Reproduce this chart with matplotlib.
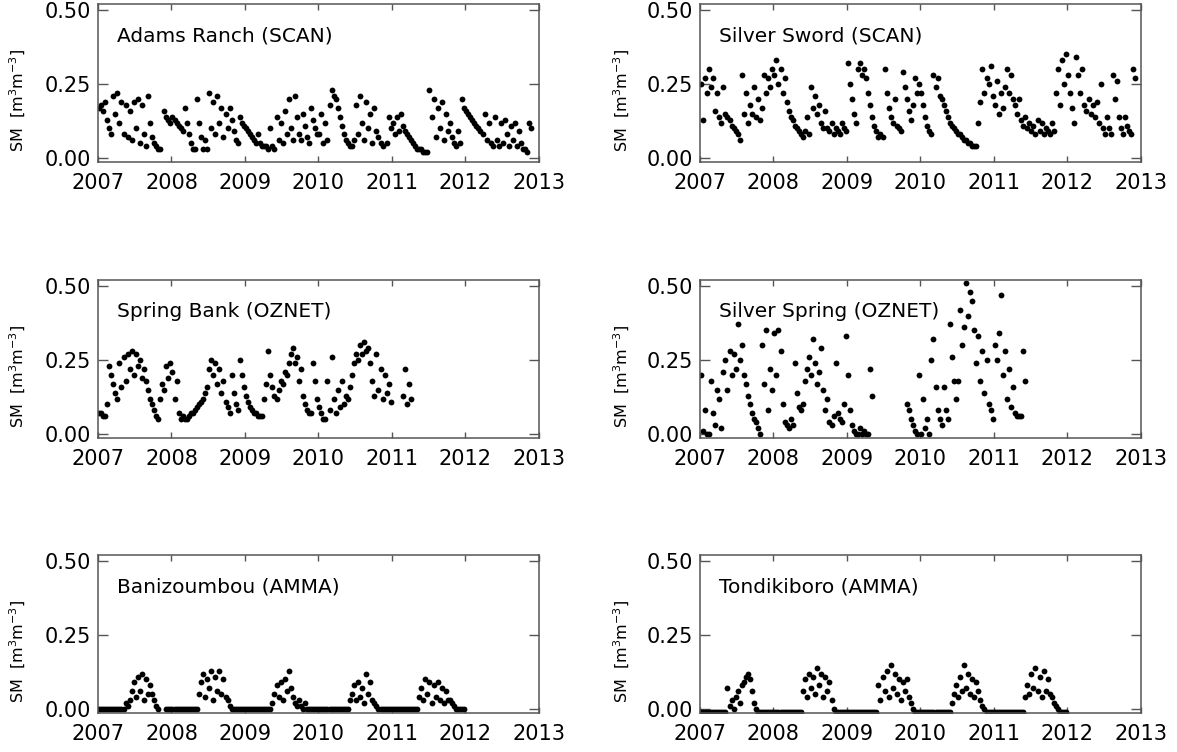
import numpy as np
import matplotlib.pyplot as plt

na = None  # gap in the record

# soil moisture, in units of 0.01 m3/m3,
# one value per dekad (36 per year) starting January 2007
adams_ranch = [
    17, 18, 16, 19, 13, 10, 8, 21, 15, 22, 12, 19, 8, 18, 7, 16, 6, 19,
    10, 20, 5, 18, 8, 4, 21, 12, 7, 5, 4, 3, 3, na, 16, 14, 13, 12,
    14, 13, 12, 11, 10, 9, 17, 12, 8, 5, 3, 3, 20, 12, 7, 3, 6, 3,
    22, 10, 19, 8, 21, 12, 17, 7, 15, 10, 17, 13, 9, 6, 5, 14, 12, 11,
    10, 9, 8, 7, 6, 5, 8, 5, 4, 4, 4, 3, 10, 4, 3, 14, 6, 12,
    5, 16, 8, 20, 10, 6, 21, 14, 8, 6, 15, 11, 7, 5, 17, 13, 10, 8,
    8, 15, 5, 12, 6, 18, 23, 21, 20, 17, 14, 11, 8, 6, 5, 4, 4, 6,
    18, 8, 21, 12, 6, 19, 10, 15, 5, 17, 9, 7, 5, 4, na, 5, 14, 10,
    12, 8, 14, 9, 15, 11, 9, 8, 7, 6, 5, 4, 3, 3, 3, 2, 2, 2,
    23, 14, 20, 7, 17, 10, 19, 6, 15, 9, 12, 7, 5, 4, 9, 5, 20, 17,
    16, 15, 14, 13, 12, 11, 10, 9, 8, 15, 6, 12, 5, 4, 14, 6, 4, 12,
    5, 13, 8, 4, 11, 6, 12, 4, 9, 5, 3, 3, 2, 12, 10,
]

silver_sword = [
    25, 13, 27, 22, 30, 24, 27, 16, 22, 14, 12, 24, 15, 14, 13, 11, 10, 9,
    8, 6, 28, 15, 22, 12, 18, 15, 24, 14, 20, 13, 17, 28, 22, 27, 24, 30,
    28, 33, 25, 30, 22, 27, 19, 16, 14, 13, 11, 10, 9, 8, 7, 9, 14, 8,
    24, 17, 21, 15, 18, 12, 10, 16, 10, 9, 12, 8, 10, 9, 8, 12, 10, 9,
    32, 25, 20, 15, 12, 30, 32, 28, 30, 27, 22, 18, 14, 11, 9, 7, 8, 7,
    30, 22, 17, 14, 12, 20, 11, 10, 9, 29, 24, 20, 16, 13, 18, 27, 22, 25,
    22, 18, 14, 11, 9, 8, 28, 24, 27, 21, 20, 18, 16, 14, 12, 11, 10, 9,
    8, 8, 7, 6, 6, 5, 5, 4, 4, 4, 12, 19, 30, 22, 27, 25, 31, 21,
    18, 26, 15, 22, 17, 24, 30, 22, 28, 20, 18, 15, 20, 13, 11, 14, 10, 12,
    9, 11, 8, 13, 9, 12, 8, 10, 9, 8, 12, 9, 22, 30, 18, 33, 25, 35,
    28, 22, 17, 12, 34, 28, 22, 30, 18, 16, 20, 15, 18, 14, 19, 12, 25, 10,
    8, 14, 10, 8, 28, 20, 26, 14, 10, 8, 14, 11, 9, 8, 30, 27,
]

spring_bank = [
    7, 7, 6, 6, 10, 23, 20, 17, 14, 12, 24, 16, 26, 18, 27, 22, 28, 20,
    27, 23, 25, 19, 22, 18, 15, 12, 10, 8, 6, 5, 12, 17, 15, 23, 19, 24,
    21, 12, 18, 7, 5, 6, 5, 5, 6, 7, 7, 8, 9, 10, 11, 12, 14, 16,
    22, 25, 20, 24, 17, 22, 14, 18, 11, 9, 7, 20, 14, 10, 8, 25, 20, 16,
    13, 11, 9, 8, 7, 7, 6, 6, 6, 12, 17, 28, 20, 16, 13, 12, 15, 18,
    17, 21, 20, 24, 27, 29, 24, 26, 18, 22, 13, 10, 8, 7, 7, 24, 18, 12,
    9, 7, 5, 5, 18, 8, 26, 12, 7, 15, 9, 18, 10, 13, 12, 16, 20, 24,
    27, 25, 30, 27, 31, 28, 29, 24, 18, 13, 27, 15, 22, 12, 20, 14, 17, 11,
    na, na, na, na, na, 13, 22, 10, 17, 12,
]

silver_spring = [
    20, 1, 8, 0, 0, 18, 7, 3, 15, 12, 2, 21, 25, 15, 28, 20, 27, 22,
    37, 25, 30, 20, 17, 13, 10, 7, 5, 4, 2, 0, 30, 17, 35, 8, 22, 15,
    34, 20, 35, 28, 10, 4, 3, 2, 5, 3, 24, 14, 9, 8, 10, 18, 22, 26,
    20, 32, 24, 17, 21, 29, 15, 8, 12, 4, 3, 6, 24, 7, 5, 4, 10, 33,
    20, 8, 3, 1, 0, 0, 2, 0, 1, 0, 0, 22, 13, na, na, na, na, na,
    na, na, na, na, na, na, na, na, na, na, na, 10, 8, 5, 3, 1, 0, 20,
    0, 12, 2, 5, 0, 25, 32, 16, 8, 5, 3, 16, 8, 5, 37, 26, 18, 12,
    18, 42, 30, 36, 51, 40, 48, 45, 35, 24, 33, 18, 28, 14, 25, 10, 8, 5,
    30, 25, 34, 47, 20, 28, 12, 22, 9, 16, 7, 6, 6, 6, 28, 18,
]

banizoumbou = [
    0, 0, 0, 0, 0, 0, 0, 0, 0, 0, 0, 0, 0, 2, 1, 3, 6, 9,
    4, 11, 6, 12, 3, 10, 5, 8, 5, 3, 1, 0, na, na, na, 0, 0, 0,
    0, 0, 0, 0, 0, 0, 0, 0, 0, 0, 0, 0, 0, 5, 9, 12, 4, 10,
    7, 13, 3, 11, 6, 13, 5, 10, 4, 3, 1, 0, 0, 0, 0, 0, 0, 0,
    0, 0, 0, 0, 0, 0, 0, 0, 0, 0, 0, 0, 0, 2, 5, 8, 4, 9,
    3, 10, 6, 13, 7, 4, 2, 1, 3, 1, 0, 2, 0, 0, 0, 0, 0, 0,
    0, 0, 0, 0, 0, 0, 0, 0, 0, 0, 0, 0, 0, 0, 0, 3, 5, 8,
    3, 9, 4, 7, 2, 12, 5, 9, 3, 2, 1, 0, 0, 0, 0, 0, 0, 0,
    0, 0, 0, 0, 0, 0, 0, 0, 0, 0, 0, 0, 0, 4, 7, 3, 10, 5,
    9, 2, 8, 4, 9, 3, 7, 2, 6, 3, 3, 2, 1, 0, 0, 0, 0, 0,
]

tondikiboro = [
    -1, -1, -1, -1, -1, -1, -1, -1, -1, -1, -1, -1, -1, 7, 1, 3, 0, 4,
    6, 2, 8, 9, 11, 12, 10, 6, 2, 0, -1, -1, -1, -1, -1, -1, -1, -1,
    -1, -1, -1, -1, -1, -1, -1, -1, -1, -1, -1, -1, -1, -1, 6, 10, 4, 12,
    7, 11, 5, 14, 8, 12, 4, 11, 6, 9, 3, 0, -1, -1, -1, -1, -1, -1,
    -1, -1, -1, -1, -1, -1, -1, -1, -1, -1, -1, -1, -1, -1, -1, 8, 3, 11,
    6, 13, 4, 15, 7, 12, 5, 10, 3, 9, 6, 10, 4, 2, 0, -1, -1, -1,
    -1, -1, -1, -1, -1, -1, -1, -1, -1, -1, -1, -1, -1, -1, -1, 2, 5, 8,
    4, 11, 6, 15, 7, 12, 5, 10, 4, 9, 6, 3, 1, 0, -1, -1, -1, -1,
    -1, -1, -1, -1, -1, -1, -1, -1, -1, -1, -1, -1, -1, -1, -1, 4, 8, 5,
    12, 7, 14, 6, 11, 4, 13, 6, 10, 5, 4, 2, 1, 0, -1, -1, -1, -1,
]

panels = [
    ("Adams Ranch (SCAN)", adams_ranch),
    ("Silver Sword (SCAN)", silver_sword),
    ("Spring Bank (OZNET)", spring_bank),
    ("Silver Spring (OZNET)", silver_spring),
    ("Banizoumbou (AMMA)", banizoumbou),
    ("Tondikiboro (AMMA)", tondikiboro),
]
year_ticks = [2007, 2008, 2009, 2010, 2011, 2012, 2013]
sm_ticks = [0.0, 0.25, 0.5]

plt.rcParams['font.family'] = 'DejaVu Sans'
fig = plt.figure(figsize=(11.77, 7.52), dpi=100)

lefts = [0.0833, 0.5947]
bottoms = [0.7846, 0.4176, 0.0519]
w, h = 0.3743, 0.2101
spine_col = '#555555'

for i, (name, vals) in enumerate(panels):
    ax = fig.add_axes([lefts[i % 2], bottoms[i // 2], w, h])
    sm = np.array(vals, dtype=float) / 100.0
    t = year_ticks[0] + (np.arange(len(sm)) + 0.5) / 36.0
    ax.plot(t, sm, 'o', color='black', ms=4.2, mew=0, ls='none')

    ax.set_xlim(2007, 2013)
    ax.set_ylim(-0.013, 0.52)
    ax.set_xticks(year_ticks)
    ax.set_xticklabels([str(y) for y in year_ticks])
    ax.set_yticks(sm_ticks)
    ax.set_yticklabels(['%.2f' % v for v in sm_ticks])
    ax.tick_params(direction='in', top=True, right=True, labelsize=15,
                   color=spine_col, width=1.0)
    ax.tick_params(axis='x', length=4, pad=8)
    ax.tick_params(axis='y', length=7, pad=5)
    for s in ax.spines.values():
        s.set_color(spine_col)
        s.set_linewidth(1.1)

    ax.text(0.043, 0.80, name, transform=ax.transAxes, fontsize=14.5,
            ha='left', va='center')
    ax.set_ylabel("SM  [m$^{3}$m$^{-3}$]", fontsize=11.5)
    ax.yaxis.set_label_coords(-0.159 if i % 2 == 0 else -0.154, 0.39)

fig.savefig('out.png', dpi=100)
